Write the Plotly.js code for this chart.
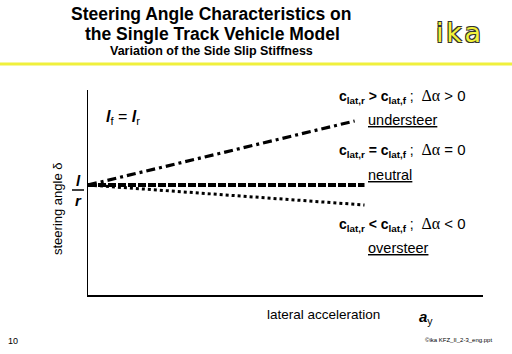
<!DOCTYPE html>
<html><head><meta charset="utf-8">
<script src="https://cdn.plot.ly/plotly-3.0.1.min.js"></script>
<style>body{margin:0;background:#fff}#c{width:512px;height:354px}</style>
</head><body><div id="c"></div>
<script>
// data (arbitrary units of steering angle vs lateral acceleration)
const xNeutral = [0, 0.70];
const yNeutral = [110, 110];
const xUnder = [0, 0.675];
const yUnder = [110, 174];
const xOver = [0, 0.70];
const yOver = [110, 90];
const seriesNames = ['understeer', 'neutral', 'oversteer'];

const L = 88, R = 483, T = 90, B = 295;
const X = px => (px - L) / (R - L);
const Y = py => (B - py) / (B - T);
const F = 'Arial, "Liberation Sans", sans-serif';

const traces = [
  {x: xUnder, y: yUnder, name: seriesNames[0], mode: 'lines', line: {color: '#000', width: 3.2, dash: '9px,4px,3px,4px'}},
  {x: xNeutral, y: yNeutral, name: seriesNames[1], mode: 'lines', line: {color: '#000', width: 4, dash: '8px,2px'}},
  {x: xOver, y: yOver, name: seriesNames[2], mode: 'lines', line: {color: '#000', width: 3, dash: '3px,3px'}}
];

function ann(text, px, py, size, opts) {
  return Object.assign({text: text, x: X(px), y: Y(py), xref: 'paper', yref: 'paper', showarrow: false,
    font: {family: F, size: size, color: '#000'}, xanchor: 'center', yanchor: 'middle'}, opts || {});
}
const cl = (s) => '<b>c<sub>lat,' + s + '</sub></b>';
const da = (rest) => '<span style="font-family:\'Liberation Serif\',serif;font-size:16px">Δα</span><span style="font-size:15px"> ' + rest + '</span>';

const annotations = [
  ann('<b>Steering Angle Characteristics on</b>', 211, 14, 17.5),
  ann('<b>the Single Track Vehicle Model</b>', 212, 34, 17.5),
  ann('<b>Variation of the Side Slip Stiffness</b>', 211, 51, 12.5),
  ann('i\u200ak\u200aa', 458, 33, 27, {font: {family: '"DejaVu Sans", sans-serif', size: 27, color: '#f2f23a',
    shadow: '1px 1px 0 #333, -1px -1px 0 #333, 1px -1px 0 #333, -1px 1px 0 #333'}}),
  ann('<b><i>l</i></b><sub>f</sub> = <b><i>l</i></b><sub>r</sub>', 104, 117, 16, {xanchor: 'left'}),
  ann('<b><i>l</i></b>', 78, 180, 15),
  ann('<b><i>r</i></b>', 78, 200, 15),
  ann('steering angle δ', 57, 209, 13, {textangle: -90}),
  ann('lateral acceleration', 323, 314, 13.5),
  ann('<b><i>a</i></b><sub>y</sub>', 426, 317, 15),
  ann('10', 13, 341, 9),
  ann('©ika KFZ_II_2-3_eng.ppt', 458, 340, 6),
  ann(cl('r') + ' <b>&gt;</b> ' + cl('f') + ' ;  ' + da('&gt; 0'), 337, 96, 14, {xanchor: 'left'}),
  ann('<u>understeer</u>', 366, 120, 14.5, {xanchor: 'left'}),
  ann(cl('r') + ' <b>=</b> ' + cl('f') + ' ;  ' + da('= 0'), 337, 150, 14, {xanchor: 'left'}),
  ann('<u>neutral</u>', 366, 175, 14.5, {xanchor: 'left'}),
  ann(cl('r') + ' <b>&lt;</b> ' + cl('f') + ' ;  ' + da('&lt; 0'), 337, 224, 14, {xanchor: 'left'}),
  ann('<u>oversteer</u>', 366, 248, 14.5, {xanchor: 'left'})
];

const shapes = [
  {type: 'line', xref: 'paper', yref: 'paper', x0: X(0), x1: X(512), y0: Y(64), y1: Y(64), line: {color: '#f0f03c', width: 3}},
  {type: 'line', xref: 'paper', yref: 'paper', x0: X(72), x1: X(84), y0: Y(190), y1: Y(190), line: {color: '#000', width: 1.5}}
];

const layout = {
  width: 512, height: 354,
  margin: {l: L, r: 512 - R, t: T, b: 354 - B, pad: 0},
  paper_bgcolor: '#fff', plot_bgcolor: '#fff',
  showlegend: false,
  xaxis: {range: [0, 1], showline: true, linecolor: '#000', linewidth: 1.5, showgrid: false, zeroline: false, showticklabels: false, ticks: ''},
  yaxis: {range: [0, 205], showline: true, linecolor: '#000', linewidth: 1.5, showgrid: false, zeroline: false, showticklabels: false, ticks: ''},
  annotations: annotations,
  shapes: shapes
};
Plotly.newPlot('c', traces, layout, {staticPlot: true, displayModeBar: false});
</script></body></html>
